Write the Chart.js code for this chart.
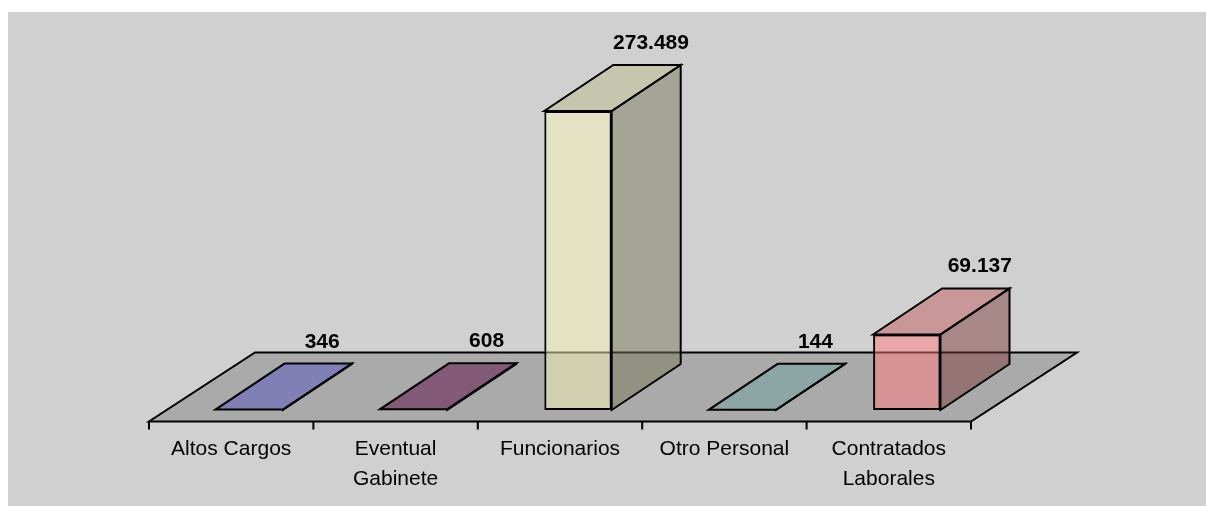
<!DOCTYPE html>
<html>
<head>
<meta charset="utf-8">
<script src="https://cdn.jsdelivr.net/npm/chart.js@4/dist/chart.umd.min.js"></script>
<style>
  html, body { margin: 0; padding: 0; background: #ffffff; }
  #wrap { width: 1206px; height: 506px; }
</style>
</head>
<body>
<div id="wrap"><canvas id="chart" width="1206" height="506"></canvas></div>
<script>
// Datos del gráfico
const categories = [['Altos Cargos'], ['Eventual', 'Gabinete'], ['Funcionarios'], ['Otro Personal'], ['Contratados', 'Laborales']];
const values = [346, 608, 273489, 144, 69137];
const yMax = 300000;

// colores de la cara frontal (las otras caras se oscurecen)
const barColors = [[113, 113, 255], [118, 13, 92], [248, 248, 184], [145, 213, 213], [255, 124, 124]];

const FONT = "'Liberation Sans', Arial, sans-serif";
const BAR_DEPTH = { x: 69, y: -46 };
const FLOOR_DEPTH = { x: 106, y: -69 };

function rgba(c, k, a) {
  return `rgba(${Math.round(c[0] * k)},${Math.round(c[1] * k)},${Math.round(c[2] * k)},${a})`;
}

// 273489 -> "273.489"
function fmt(v) {
  return String(v).replace(/\B(?=(\d{3})+(?!\d))/g, '.');
}

function poly(ctx, pts, fill) {
  ctx.beginPath();
  ctx.moveTo(pts[0][0], pts[0][1]);
  for (let i = 1; i < pts.length; i++) ctx.lineTo(pts[i][0], pts[i][1]);
  ctx.closePath();
  if (fill) { ctx.fillStyle = fill; ctx.fill(); }
  ctx.stroke();
}

// fondo + suelo 3D + marcas del eje
const floorPlugin = {
  id: 'floor3d',
  beforeDatasetsDraw(chart) {
    const ctx = chart.ctx;
    const a = chart.chartArea;
    ctx.save();
    ctx.fillStyle = '#ffffff';
    ctx.fillRect(0, 0, chart.width, chart.height);
    ctx.fillStyle = '#d0d0d0';
    ctx.fillRect(8, 12, chart.width - 8, chart.height - 12);

    const L = a.left - 18, R = a.right - 18, B = a.bottom + 11.5;
    ctx.strokeStyle = '#000';
    ctx.lineWidth = 2;
    ctx.lineJoin = 'miter';
    poly(ctx, [[L, B], [R, B], [R + FLOOR_DEPTH.x, B + FLOOR_DEPTH.y], [L + FLOOR_DEPTH.x, B + FLOOR_DEPTH.y]], '#aaaaaa');

    // marcas
    for (let i = 0; i <= categories.length; i++) {
      const x = L + i * (R - L) / categories.length;
      ctx.beginPath();
      ctx.moveTo(x, B);
      ctx.lineTo(x, B + 8);
      ctx.stroke();
    }

    // etiquetas de categoría
    const xs = chart.scales.x;
    ctx.fillStyle = '#000';
    ctx.font = `21px ${FONT}`;
    ctx.textAlign = 'center';
    ctx.textBaseline = 'alphabetic';
    categories.forEach((lines, i) => {
      const x = xs.getPixelForTick(i) - 18;
      lines.forEach((t, j) => ctx.fillText(t, x, B + 33 + j * 30));
    });
    ctx.restore();
  },
  afterDatasetsDraw(chart) {
    const ctx = chart.ctx;
    const meta = chart.getDatasetMeta(0);
    ctx.save();
    ctx.strokeStyle = '#000';
    ctx.lineWidth = 2;
    ctx.lineJoin = 'miter';
    meta.data.forEach((bar, i) => {
      const c = barColors[i];
      const x0 = bar.x - bar.width / 2, x1 = bar.x + bar.width / 2;
      const top = bar.y, base = bar.base;
      const dx = BAR_DEPTH.x, dy = BAR_DEPTH.y;
      // cara lateral
      poly(ctx, [[x1, top], [x1, base], [x1 + dx, base + dy], [x1 + dx, top + dy]], rgba(c, 0.49, 0.5));
      // cara superior
      poly(ctx, [[x0, top], [x1, top], [x1 + dx, top + dy], [x0 + dx, top + dy]], rgba(c, 0.76, 0.5));

      // valor, sobre el borde trasero de la cara superior
      ctx.fillStyle = '#000';
      ctx.font = `bold 21px ${FONT}`;
      ctx.textAlign = 'center';
      ctx.textBaseline = 'alphabetic';
      ctx.fillText(fmt(values[i]), bar.x + dx + 4, top + dy - 16);
    });
    ctx.restore();
  }
};

const ctx = document.getElementById('chart').getContext('2d');
new Chart(ctx, {
  type: 'bar',
  data: {
    labels: categories.map(l => l.join(' ')),
    datasets: [{
      data: values,
      backgroundColor: barColors.map(c => rgba(c, 1, 0.5)),
      borderColor: '#000',
      borderWidth: 2,
      borderSkipped: false,
      barPercentage: 0.41,
      categoryPercentage: 1
    }]
  },
  options: {
    responsive: false,
    animation: false,
    layout: { padding: { left: 167, right: 217, top: 82, bottom: 96 } },
    plugins: { legend: { display: false }, tooltip: { enabled: false } },
    scales: {
      x: { display: false },
      y: { display: false, min: 0, max: yMax }
    }
  },
  plugins: [floorPlugin]
});
</script>
</body>
</html>
